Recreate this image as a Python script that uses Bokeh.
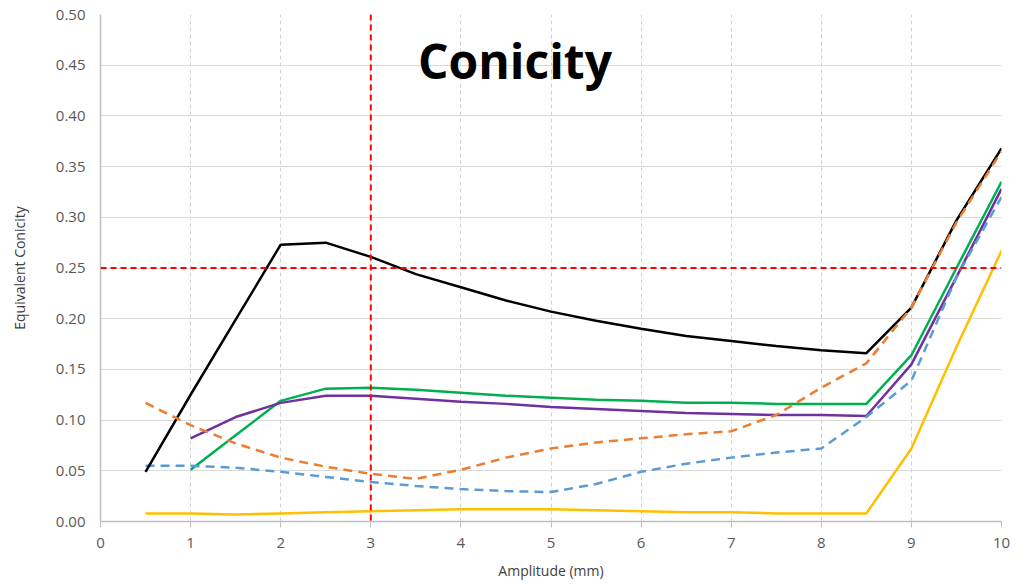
from bokeh.plotting import figure
from bokeh.models import Label, Span, FixedTicker, NumeralTickFormatter, Range1d
from bokeh.embed import file_html
from bokeh.resources import INLINE

# Amplitude (mm)
x_black = [0.5, 1, 1.5, 2, 2.5, 3, 3.5, 4, 4.5, 5, 5.5, 6, 6.5, 7, 7.5, 8, 8.5, 9, 9.5, 10]
black = [0.049, 0.125, 0.199, 0.273, 0.275, 0.261, 0.244, 0.231, 0.218, 0.207, 0.198, 0.190, 0.183, 0.178, 0.173, 0.169, 0.166, 0.211, 0.297, 0.368]

x_orange = [0.5, 1, 1.5, 2, 2.5, 3, 3.5, 4, 4.5, 5, 5.5, 6, 6.5, 7, 7.5, 8, 8.5, 9, 9.5, 10]
orange = [0.117, 0.095, 0.077, 0.063, 0.054, 0.047, 0.042, 0.051, 0.063, 0.072, 0.078, 0.082, 0.086, 0.089, 0.105, 0.132, 0.156, 0.211, 0.295, 0.365]

x_blue = [0.5, 1, 1.5, 2, 2.5, 3, 3.5, 4, 4.5, 5, 5.5, 6, 6.5, 7, 7.5, 8, 8.5, 9, 9.5, 10]
blue = [0.055, 0.055, 0.053, 0.049, 0.044, 0.039, 0.035, 0.032, 0.030, 0.029, 0.037, 0.049, 0.057, 0.063, 0.068, 0.072, 0.103, 0.139, 0.241, 0.320]

x_green = [1, 1.5, 2, 2.5, 3, 3.5, 4, 4.5, 5, 5.5, 6, 6.5, 7, 7.5, 8, 8.5, 9, 9.5, 10]
green = [0.051, 0.085, 0.119, 0.131, 0.132, 0.130, 0.127, 0.124, 0.122, 0.120, 0.119, 0.117, 0.117, 0.116, 0.116, 0.116, 0.164, 0.250, 0.335]

x_purple = [1, 1.5, 2, 2.5, 3, 3.5, 4, 4.5, 5, 5.5, 6, 6.5, 7, 7.5, 8, 8.5, 9, 9.5, 10]
purple = [0.082, 0.103, 0.117, 0.124, 0.124, 0.121, 0.118, 0.116, 0.113, 0.111, 0.109, 0.107, 0.106, 0.105, 0.105, 0.104, 0.155, 0.241, 0.328]

x_yellow = [0.5, 1, 1.5, 2, 2.5, 3, 3.5, 4, 4.5, 5, 5.5, 6, 6.5, 7, 7.5, 8, 8.5, 9, 9.5, 10]
yellow = [0.008, 0.008, 0.007, 0.008, 0.009, 0.010, 0.011, 0.012, 0.012, 0.012, 0.011, 0.010, 0.009, 0.009, 0.008, 0.008, 0.008, 0.072, 0.172, 0.267]

x_ticks = list(range(0, 11))
y_ticks = [0.0, 0.05, 0.10, 0.15, 0.20, 0.25, 0.30, 0.35, 0.40, 0.45, 0.50]
limit_conicity = 0.25
limit_amplitude = 3

FONT = "Open Sans"
TICK_COLOR = "#595959"

p = figure(width=1028, height=585, output_backend="svg", toolbar_location=None,
           x_range=Range1d(0, 10), y_range=Range1d(0, 0.5),
           min_border_left=100, min_border_right=27, min_border_top=14, min_border_bottom=64)
p.outline_line_color = None
p.background_fill_color = "white"
p.border_fill_color = "white"

# grid
p.xgrid.ticker = FixedTicker(ticks=x_ticks)
p.ygrid.ticker = FixedTicker(ticks=y_ticks)
p.xgrid.grid_line_color = "#d0d0d0"
p.xgrid.grid_line_dash = "4 3"
p.xgrid.grid_line_width = 1
p.ygrid.grid_line_color = "#d9d9d9"
p.ygrid.grid_line_width = 1

# axes
p.xaxis.ticker = FixedTicker(ticks=x_ticks)
p.yaxis.ticker = FixedTicker(ticks=y_ticks)
p.yaxis.formatter = NumeralTickFormatter(format="0.00")
for ax in (p.xaxis[0], p.yaxis[0]):
    ax.axis_line_color = "#bfbfbf"
    ax.axis_line_width = 1.5
    ax.major_label_text_font = FONT
    ax.major_label_text_font_size = "15px"
    ax.major_label_text_color = TICK_COLOR
    ax.axis_label_text_font = FONT
    ax.axis_label_text_font_size = "14px"
    ax.axis_label_text_font_style = "normal"
    ax.axis_label_text_color = "#404040"
    ax.minor_tick_line_color = None
p.xaxis.major_tick_line_color = "#bfbfbf"
p.xaxis.major_tick_out = 6
p.xaxis.major_tick_in = 0
p.xaxis.major_label_standoff = 10
p.yaxis.major_tick_line_color = None
p.yaxis.major_tick_out = 0
p.yaxis.major_tick_in = 0
p.yaxis.major_label_standoff = 15
p.xaxis.axis_label = "Amplitude (mm)"
p.yaxis.axis_label = "Equivalent Conicity"
p.xaxis.axis_label_standoff = 10
p.yaxis.axis_label_standoff = 24

LW = 2.5
p.line(x_yellow, yellow, line_color="#ffc000", line_width=LW)
p.line(x_green, green, line_color="#00b050", line_width=LW)
p.line(x_purple, purple, line_color="#7030a0", line_width=LW)
p.line(x_blue, blue, line_color="#5b9bd5", line_width=LW, line_dash="9 6")
p.line(x_black, black, line_color="#000000", line_width=LW)
p.line(x_orange, orange, line_color="#ed7d31", line_width=LW, line_dash="9 6")

p.add_layout(Span(location=limit_conicity, dimension="width", line_color="#ff0000",
                  line_width=2, line_dash="6 4"))
p.add_layout(Span(location=limit_amplitude, dimension="height", line_color="#ff0000",
                  line_width=2, line_dash="6 4"))

p.add_layout(Label(x=4.6, y=0.4545, text="Conicity", text_font=FONT,
                   text_font_size="48px", text_font_style="bold", text_color="black",
                   text_align="center", text_baseline="middle"))

open("out.html", "w").write(file_html(p, INLINE))
